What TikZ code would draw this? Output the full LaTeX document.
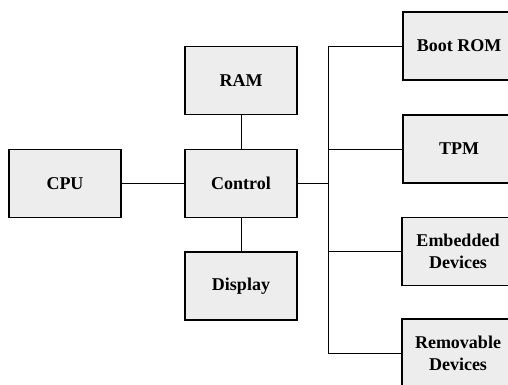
\documentclass[tikz,border=0pt]{standalone}
\usepackage{fontspec}
\setmainfont{Liberation Serif}
\begin{document}
\begin{tikzpicture}[x=1pt,y=-1pt,
  blk/.style={draw=black, line width=1.1pt, fill=gray!14, minimum width=112pt, minimum height=68pt, inner sep=0pt, align=center, font=\fontsize{18}{22}\selectfont\bfseries},
  wire/.style={draw=black, line width=0.9pt}]
\useasboundingbox (0,0) rectangle (508,384);
\clip (0,0) rectangle (508,384);
\node[blk] (cpu) at (65,183.5) {CPU};
\node[blk] (ram) at (241,80.5) {RAM};
\node[blk] (ctl) at (241,183.5) {Control};
\node[blk] (disp) at (241,286) {Display};
\node[blk] (boot) at (459,46) {Boot ROM};
\node[blk] (tpm) at (459,149) {TPM};
\node[blk] (emb) at (458,251.5) {Embedded\\Devices};
\node[blk] (rem) at (458,353) {Removable\\Devices};
\coordinate (bj) at (328,183.5);
\draw[wire] (cpu.east) -- (ctl.west);
\draw[wire] (ram.south) -- (ctl.north);
\draw[wire] (ctl.south) -- (disp.north);
\draw[wire] (ctl.east) -- (bj);
\draw[wire] (boot.west) -| (bj |- rem.west) -- (rem.west);
\draw[wire] (tpm.west) -- (bj |- tpm.west);
\draw[wire] (emb.west) -- (bj |- emb.west);
\end{tikzpicture}
\end{document}
